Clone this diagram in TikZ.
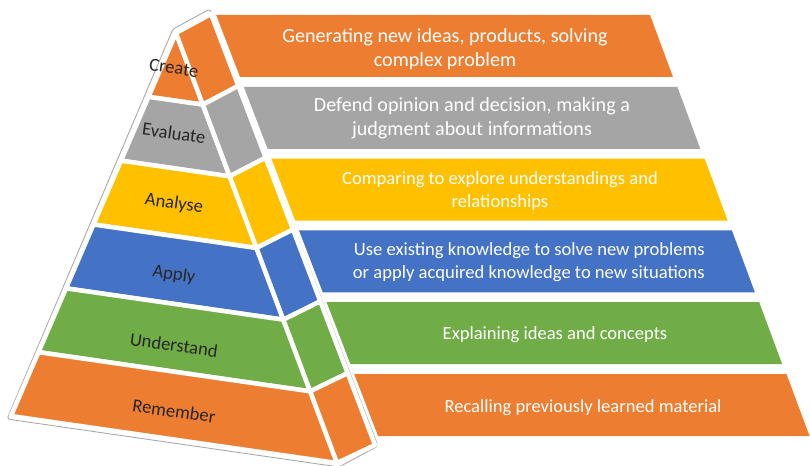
\documentclass[tikz,border=0pt]{standalone}
\usepackage{fontspec}
\setmainfont{Carlito}
\usetikzlibrary{calc}
\definecolor{bloomorange}{HTML}{ED7D31}
\definecolor{bloomgray}{HTML}{A5A5A5}
\definecolor{bloomyellow}{HTML}{FFC000}
\definecolor{bloomblue}{HTML}{4472C4}
\definecolor{bloomgreen}{HTML}{70AD47}
\begin{document}
\begin{tikzpicture}[x=0.025cm,y=-0.025cm,
		piece/.style={fill=#1, draw=white, line width=3.2pt, line join=round},
		outline/.style={fill=white, draw=black!35, line width=0.6pt, rounded corners=2pt, preaction={draw=white, line width=5pt}},
		bartext/.style={text=white, align=center, inner sep=0pt, font=\fontsize{13.2}{16.5}\selectfont},
		bigtext/.style={bartext, font=\fontsize{14.3}{17}\selectfont},
		level/.style={text=black!85, rotate=-8, inner sep=0pt, font=\fontsize{13.2}{16.5}\selectfont}]
		\useasboundingbox (0,0) rectangle (810,466);
		
		% bars behind the pyramid
		\foreach \k/\c in {0/bloomorange, 1/bloomgray, 2/bloomyellow, 3/bloomblue, 4/bloomgreen, 5/bloomorange}{
			\fill[\c] ({208+27.3*\k},{15+71.8*\k}) -- ++(442,0) -- ++(23,62) -- ++(-442,0) -- cycle;
		}
		\node[bigtext] (tcreate) at (445,49) {Generating new ideas, products, solving\\complex problem};
		\node[bigtext] (tevaluate) at (472,118) {Defend opinion and decision, making a\\judgment about informations};
		\node[bartext] (tanalyse) at (500,191) {Comparing to explore understandings and\\relationships};
		\node[bartext, align=right, anchor=east] (tapply) at (705,262) {Use existing knowledge to solve new problems\\or apply acquired knowledge to new situations};
		\node[bartext] (tunderstand) at (555,335) {Explaining ideas and concepts};
		\node[bartext] (tremember) at (583,408) {Recalling previously learned material};
		
		% pyramid
		\coordinate (F) at (176,33);
		\coordinate (P) at (11,416);
		\coordinate (Q) at (337,463);
		\coordinate (S) at (211,14);
		\coordinate (R) at (375,445);
		\draw[outline] (173,29) -- (210,9) -- (378,446) -- (339,467) -- (7,419) -- cycle;
		\foreach \k/\c [evaluate=\k as \a using (\k-1)/6, evaluate=\k as \b using \k/6] in {1/bloomorange, 2/bloomgray, 3/bloomyellow, 4/bloomblue, 5/bloomgreen, 6/bloomorange}{
			\draw[piece=\c] ($(F)!\a!(P)$) -- ($(F)!\b!(P)$) -- ($(F)!\b!(Q)$) -- ($(F)!\a!(Q)$) -- cycle;
			\draw[piece=\c] ($(F)!\a!(Q)$) -- ($(F)!\b!(Q)$) -- ($(S)!\b!(R)$) -- ($(S)!\a!(R)$) -- cycle;
		}
		\foreach \name/\txt/\y in {create/Create/68, evaluate/Evaluate/133, analyse/Analyse/204, apply/Apply/275, understand/Understand/345, remember/Remember/411}{
			\node[level] (\name) at (174,\y) {\txt};
		}
\end{tikzpicture}
\end{document}
